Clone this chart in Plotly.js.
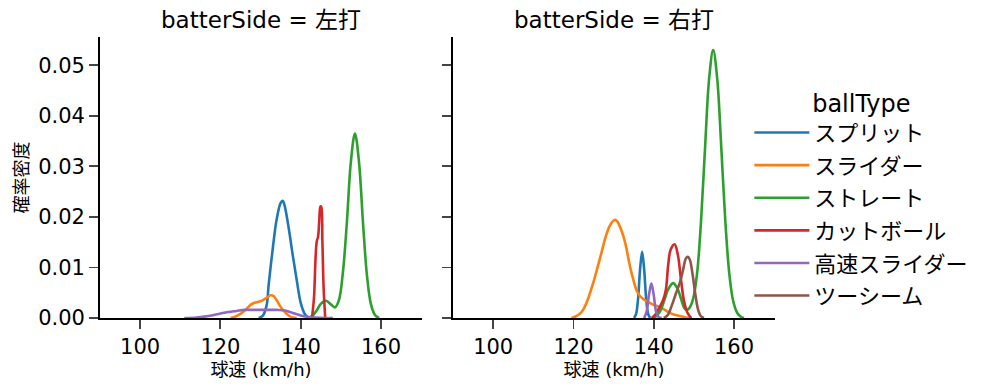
<!DOCTYPE html>
<html><head><meta charset="utf-8">
<script src="https://cdn.plot.ly/plotly-3.0.1.min.js"></script>
<style>html,body{margin:0;padding:0;background:#fff}</style>
</head><body><div id="chart" style="width:999px;height:391px"></div>
<script>
// ---- categories ----
const ballTypes = ['スプリット','スライダー','ストレート','カットボール','高速スライダー','ツーシーム'];
const panelNames = ['左打','右打'];
const colors = ['#1f77b4','#ff7f0e','#2ca02c','#d62728','#9467bd','#8c564b'];

// ---- left panel (左打): speed (km/h) and density ----
const L_split_x = [129.5,130.5,131.5,132,133,134,135,135.5,136,137,138,139,140,141,142];
const L_split_y = [0,0.0004,0.0025,0.0065,0.0135,0.0195,0.0228,0.0232,0.0222,0.0178,0.0125,0.0075,0.003,0.0008,0];
const L_slider_x = [122.5,123.5,125,126.5,127.5,128.5,129.5,130.5,131.5,132.5,133.3,134,135,136,137,138,139];
const L_slider_y = [0,0.0002,0.0008,0.0018,0.0026,0.003,0.0032,0.0035,0.004,0.0045,0.0043,0.0035,0.0022,0.0012,0.0005,0.0001,0];
const L_straight_x = [142,143,144,145,146.3,147.5,148.5,149.5,150.5,151.5,152.5,153.5,154.5,155.5,156.5,157.5,158.5,159.5];
const L_straight_y = [0,0.0005,0.0015,0.0028,0.0034,0.0027,0.0021,0.0035,0.009,0.019,0.031,0.0365,0.031,0.019,0.0084,0.0027,0.0006,0];
const L_cutter_x = [142.8,143.3,143.7,144.0,144.3,144.6,144.9,145.1,145.4,145.7,146.1];
const L_cutter_y = [0,0.004,0.012,0.0152,0.016,0.019,0.0221,0.022,0.015,0.006,0];
const L_fast_x = [111,114,117,120,122,124,126,128,130,132,134,136,138,140,142,145,148];
const L_fast_y = [0,0.0001,0.0004,0.0009,0.0012,0.0014,0.0016,0.0016,0.0016,0.0016,0.0016,0.0015,0.001,0.0005,0.0002,0.00005,0];

// ---- right panel (右打) ----
const R_split_x = [135.1,135.6,136.1,136.6,137.1,137.6,138.1,138.6,139.1];
const R_split_y = [0,0.0008,0.0039,0.0097,0.0131,0.0097,0.0039,0.0008,0];
const R_slider_x = [119.5,120.5,121.5,122.4,123.5,124.9,126,127,128,129,130,130.5,131,132,133,134,135,135.7,136.5,137.3,138.5,140,141.6,143,144,145,146.5,148,149.5];
const R_slider_y = [0,0.0003,0.0008,0.0016,0.0035,0.0069,0.01,0.013,0.016,0.0182,0.0193,0.0194,0.019,0.0172,0.0145,0.0105,0.0073,0.0055,0.0044,0.0038,0.0032,0.0026,0.0021,0.0015,0.001,0.0007,0.0004,0.0001,0];
const R_straight_x = [139.5,140.5,141.5,142.5,143.5,144.8,145.8,146.8,147.6,148.2,148.8,149.8,150.8,151.8,152.8,153.8,154.8,155.8,156.8,157.8,158.8,159.8,160.8,161.8,162.5];
const R_straight_y = [0,0.0003,0.0012,0.0032,0.0055,0.0069,0.006,0.0038,0.002,0.0016,0.0019,0.0038,0.0089,0.0195,0.034,0.0474,0.053,0.0474,0.034,0.0195,0.0089,0.0033,0.001,0.0002,0];
const R_cutter_x = [139.5,140.5,141.5,142.3,143,143.6,144.2,145.2,146,146.8,147.5,148.3,149.3];
const R_cutter_y = [0,0.0008,0.0022,0.0035,0.0055,0.0105,0.0135,0.0146,0.0125,0.0075,0.0035,0.0012,0];
const R_fast_x = [137.6,138.2,138.8,139.4,140,140.6,141.2,142];
const R_fast_y = [0,0.0012,0.0045,0.0068,0.0045,0.0012,0.0002,0];
const R_two_x = [142.5,143.5,144.5,145.5,146.5,147.3,148,148.5,149,149.7,150.3,151,151.7,152.5];
const R_two_y = [0,0.0006,0.0025,0.0048,0.007,0.0095,0.0118,0.0121,0.0115,0.0085,0.005,0.0018,0.0004,0];

const series = [
  // [panel, typeIndex, x, y]
  [0,0,L_split_x,L_split_y],
  [0,1,L_slider_x,L_slider_y],
  [0,2,L_straight_x,L_straight_y],
  [0,3,L_cutter_x,L_cutter_y],
  [0,4,L_fast_x,L_fast_y],
  [1,0,R_split_x,R_split_y],
  [1,1,R_slider_x,R_slider_y],
  [1,2,R_straight_x,R_straight_y],
  [1,3,R_cutter_x,R_cutter_y],
  [1,4,R_fast_x,R_fast_y],
  [1,5,R_two_x,R_two_y]
];

const shown = {};
const traces = series.map(([p,t,x,y]) => {
  const first = !shown[t]; shown[t] = true;
  return {
    type:'scatter', mode:'lines', x:x, y:y,
    xaxis: p===0?'x':'x2', yaxis: p===0?'y':'y2',
    name: ballTypes[t], legendgroup: ballTypes[t], showlegend: first,
    legendrank: t+1,
    line:{color:colors[t], width:2.6, shape:'spline', smoothing:1},
    hoverinfo:'x+y+name'
  };
});

const FONT = '"DejaVu Sans", "Noto Sans CJK JP", sans-serif';
const xAxisBase = {
  range:[90,170.2], tickvals:[100,120,140,160], ticks:'outside', ticklen:9, tickwidth:1.9,
  showline:true, linecolor:'#000', linewidth:1.9, showgrid:false, zeroline:false,
  tickfont:{size:21, color:'#000'},
  title:{text:'球速 (km/h)', font:{size:18,color:'#000'}, standoff:5}
};
const yAxisBase = {
  range:[0,0.0556], dtick:0.01, tick0:0, tickformat:'.2f', ticks:'outside', ticklen:9, tickwidth:1.9,
  showline:true, linecolor:'#000', linewidth:1.9, showgrid:false, zeroline:false,
  tickfont:{size:21, color:'#000'}
};

const layout = {
  width:999, height:391,
  margin:{l:100, r:224, t:37, b:73},
  paper_bgcolor:'#fff', plot_bgcolor:'#fff',
  font:{family:FONT, color:'#000'},
  showlegend:true,
  xaxis:Object.assign({}, xAxisBase, {domain:[0,0.477], anchor:'y'}),
  xaxis2:Object.assign({}, xAxisBase, {domain:[0.523,1], anchor:'y2'}),
  yaxis:Object.assign({}, yAxisBase, {anchor:'x', title:{text:'確率密度', font:{size:18,color:'#000'}, standoff:5}}),
  yaxis2:Object.assign({}, yAxisBase, {anchor:'x2', matches:'y', showticklabels:false}),
  legend:{
    x:0.962, xanchor:'left', y:0.845, yanchor:'top',
    font:{size:22, color:'#000'}, itemwidth:55, tracegroupgap:1,
    title:{text:'ballType', font:{size:24,color:'#000'}, side:'top center'},
    bgcolor:'rgba(0,0,0,0)', borderwidth:0
  },
  annotations: panelNames.map((nm,i)=>({
    text:'batterSide = '+nm, xref: i===0?'x domain':'x2 domain', yref:'paper',
    x:0.5, y:1, xanchor:'center', yanchor:'middle', yshift:17, showarrow:false,
    font:{size:23, color:'#000'}
  }))
};

Plotly.newPlot('chart', traces, layout, {staticPlot:true, displayModeBar:false});
</script></body></html>
